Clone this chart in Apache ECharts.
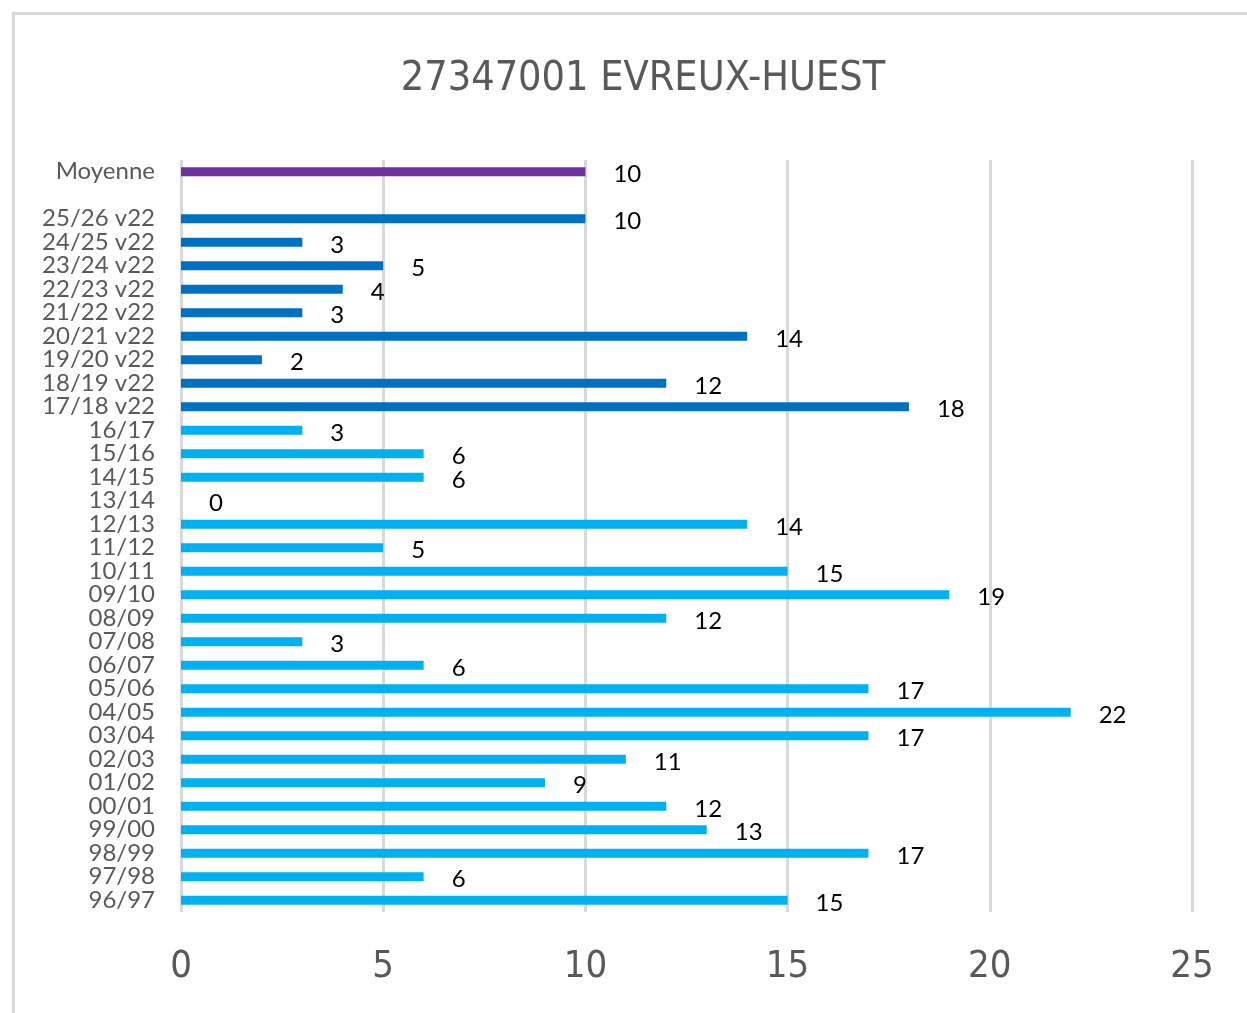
<!DOCTYPE html>
<html>
<head>
<meta charset="utf-8">
<script src="https://cdn.jsdelivr.net/npm/echarts@6/dist/echarts.min.js"></script>
<style>html,body{margin:0;padding:0;background:#fff;}#c{width:1247px;height:1013px;}</style>
</head>
<body>
<div id="c"></div>
<script>
// Data (bottom to top)
const seasonsOld = ['96/97','97/98','98/99','99/00','00/01','01/02','02/03','03/04','04/05','05/06','06/07','07/08','08/09','09/10','10/11','11/12','12/13','13/14','14/15','15/16','16/17'];
const valuesOld  = [15,6,17,13,12,9,11,17,22,17,6,3,12,19,15,5,14,0,6,6,3];
const seasonsV22 = ['17/18 v22','18/19 v22','19/20 v22','20/21 v22','21/22 v22','22/23 v22','23/24 v22','24/25 v22','25/26 v22'];
const valuesV22  = [18,12,2,14,3,4,5,3,10];
const averageLabel = 'Moyenne';
const averageValue = 10;
const xTicks = [0,5,10,15,20,25];

const colorOld = '#00B0F0', colorV22 = '#0070C0', colorAvg = '#7030A0';
const condensed = "'DejaVu Sans Condensed', 'Roboto Condensed', Lato, sans-serif";

const categories = [...seasonsOld, ...seasonsV22, '', averageLabel];
const data = [
  ...valuesOld.map(v => ({value: v, itemStyle: {color: colorOld}})),
  ...valuesV22.map(v => ({value: v, itemStyle: {color: colorV22}})),
  {value: null},
  {value: averageValue, itemStyle: {color: colorAvg}}
];

const chart = echarts.init(document.getElementById('c'), null, {renderer: 'canvas'});
chart.setOption({
  animation: false,
  backgroundColor: '#fff',
  graphic: [{
    type: 'rect', left: 11, top: 11, silent: true,
    shape: {x: 0, y: 0, width: 1260, height: 1030},
    style: {fill: 'none', stroke: '#d9d9d9', lineWidth: 3}
  }],
  title: {
    text: '27347001 EVREUX-HUEST',
    left: 638, top: 54, textAlign: 'center',
    textStyle: {color: '#595959', fontSize: 41, fontWeight: 'normal', fontFamily: condensed}
  },
  grid: {left: 181, right: 55, top: 160, bottom: 101, containLabel: false},
  xAxis: {
    type: 'value', min: xTicks[0], max: xTicks[xTicks.length - 1], interval: 5,
    axisLine: {show: false}, axisTick: {show: false},
    splitLine: {show: true, lineStyle: {color: '#d9d9d9', width: 3}},
    axisLabel: {color: '#595959', fontSize: 38, fontFamily: condensed, margin: 36}
  },
  yAxis: {
    type: 'category', data: categories,
    axisLine: {show: false}, axisTick: {show: false},
    axisLabel: {color: '#595959', fontSize: 24, fontFamily: 'Lato', margin: 26, interval: 0}
  },
  series: [{
    type: 'bar', data: data, barWidth: 9,
    label: {
      show: true, position: 'right', distance: 28,
      color: '#000', fontSize: 24, fontFamily: 'Lato', offset: [0, 3],
      formatter: p => (p.value === null || p.value === undefined) ? '' : p.value
    }
  }]
});
</script>
</body>
</html>
